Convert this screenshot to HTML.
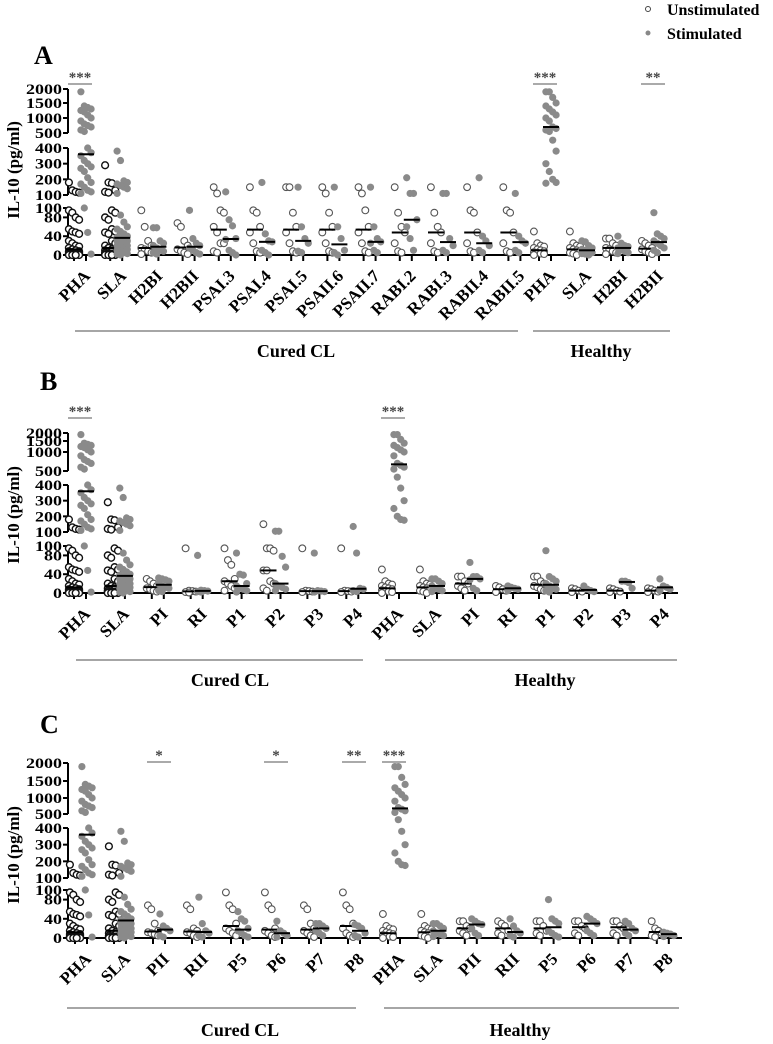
<!DOCTYPE html>
<html><head><meta charset="utf-8"><style>
html,body{margin:0;padding:0;background:#fff}
svg{display:block}
text{font-family:"Liberation Serif",serif;font-weight:bold}
</style></head><body>
<svg id="chart" width="773" height="1044" viewBox="0 0 773 1044" xmlns="http://www.w3.org/2000/svg">
<g>
<circle cx="648" cy="9" r="2.5" fill="#fff" stroke="#444" stroke-width="1"/>
<text x="667" y="15" font-size="16">Unstimulated</text>
<circle cx="648" cy="33" r="2.5" fill="#888"/>
<text x="667" y="39" font-size="16">Stimulated</text>
</g>
</svg>
<script>
// ---- Panel A data ----
const catsA = ["PHA","SLA","H2BI","H2BII","PSAI.3","PSAI.4","PSAI.5","PSAII.6","PSAII.7","RABI.2","RABI.3","RABII.4","RABII.5","PHA","SLA","H2BI","H2BII"];
const curedCountA = 13;
const unstimA = [
[180,130,120,115,95,90,80,75,55,50,48,45,30,25,20,18,15,12,10,8,8,6,5,5,4,3,3,2,2,1,1,0,0,0,0],
[290,180,175,130,120,115,95,90,80,75,55,50,48,45,30,25,20,15,12,10,10,8,8,5,5,4,3,3,2,2,1,0,0,0,0],
[95,60,30,20,15,12,8,5,2],
[60,68,30,20,12,8,5,2],
[150,110,95,90,60,48,25,25,8,5],
[150,90,95,60,48,25,8,5],
[150,150,90,60,48,25,8,5],
[150,110,90,60,48,25,8,5],
[150,110,95,60,48,25,8,5],
[150,90,60,48,25,8,5],
[150,90,60,48,25,8,5],
[150,95,90,48,25,8,5],
[150,95,90,48,25,8,5],
[50,25,20,18,15,12,10,8,6,5,3,2,0],
[50,25,20,18,15,12,10,8,5,3,0],
[35,35,25,20,15,12,8,5,2],
[30,25,20,15,12,8,5,2]];
const stimA = [
[1900,1400,1350,1300,1250,1200,1100,1000,900,800,750,700,600,550,400,370,350,320,300,280,270,250,210,180,170,150,130,120,110,100,48,2],
[380,320,190,180,170,160,150,140,110,85,70,60,55,50,45,40,38,35,30,30,30,28,25,20,20,18,15,12,10,8,5,3,2,0],
[58,58,30,25,20,15,10,8,5,2],
[95,35,25,20,15,10,5,2],
[120,75,62,35,33,10,5,0],
[180,45,30,28,10,5,0],
[150,60,35,25,8,5],
[150,60,35,10,5,0],
[150,60,35,28,25,10,5],
[210,110,110,75,60,35,10],
[110,110,35,20,10,5],
[210,40,30,20,10,5],
[110,40,30,25,10,5],
[1900,1900,1700,1500,1400,1300,1200,1100,1000,900,700,650,600,550,450,380,300,250,200,180,175],
[30,28,20,15,12,10,8,5,3,2,0],
[40,25,20,18,15,12,8,5,3],
[90,45,40,35,30,25,20,15,10,5]];
const starsA = [["***",0],["***",13],["**",16]];

// ---- Panel B data ----
const catsB = ["PHA","SLA","PI","RI","P1","P2","P3","P4","PHA","SLA","PI","RI","P1","P2","P3","P4"];
const curedCountB = 8;
const unstimB = [
unstimA[0], unstimA[1],
[30,25,20,15,10,8,5,3],
[95,5,4,3,2,1],
[95,70,60,30,25,20,15,10,5],
[150,95,95,90,48,48,25,20,10,5],
[95,5,4,3,2],
[95,5,4,3,2],
[50,25,20,18,15,12,10,8,6,5,3,2,0],
[50,25,20,18,15,12,10,8,5,3,0],
[35,35,25,20,15,10,5],
[15,12,8,5,2],
[35,35,25,20,15,12,8,5],
[10,8,5,3,2],
[10,8,5,3,2],
[10,8,5,3,2]];
const stimB = [
stimA[0], stimA[1],
[32,30,28,25,20,15,12,10,5,3],
[80,6,5,4,3,2],
[85,40,38,20,15,10,8,5,2],
[105,105,78,55,20,15,12,8,5],
[85,5,4,3,2],
[135,85,10,8,5,3],
[1900,1900,1600,1400,1300,1200,1100,1000,900,700,650,600,550,450,380,300,250,200,180,175],
[30,30,25,20,15,10,8,5,3],
[65,35,35,30,28,10,5],
[15,12,10,8,5],
[90,35,30,25,20,15,10,8,5,2],
[15,8,5,3],
[25,25,22,10],
[30,15,12,8,5]];
const starsB = [["***",0],["***",8]];

// ---- Panel C data ----
const catsC = ["PHA","SLA","PII","RII","P5","P6","P7","P8","PHA","SLA","PII","RII","P5","P6","P7","P8"];
const curedCountC = 8;
const unstimC = [
unstimA[0], unstimA[1],
[68,60,30,15,12,10,8,5],
[68,60,20,15,12,10,5,2],
[95,68,60,30,20,15,10,5],
[95,68,60,20,15,10,5,2],
[68,60,30,20,15,10,5,2],
[95,68,60,30,20,10,5,2],
[50,25,20,18,15,12,10,8,6,5,3,2,0],
[50,25,20,18,15,12,10,8,5,3,0],
[35,35,25,20,15,10,5],
[35,30,25,15,10,5],
[35,35,25,15,10,5],
[35,35,25,20,10,5],
[35,35,25,20,10,5],
[35,20,15,10,5,2]];
const stimC = [
stimA[0], stimA[1],
[50,25,20,15,5,2],
[85,30,15,10,5,2],
[55,40,35,20,15,10,5,2],
[35,15,10,5,2],
[30,30,25,20,15,10,5],
[28,25,20,10,5,2],
[1900,1900,1600,1400,1300,1200,1100,1000,900,700,650,600,550,450,380,300,250,200,180,175],
[30,30,25,20,15,10,8,5,3],
[40,35,30,28,20,10,5],
[40,25,15,10,5,2],
[80,40,35,30,15,10,5,2],
[45,40,35,30,15,10,5],
[35,30,20,15,10,5],
[12,10,8,5,3]];
const starsC = [["*",2],["*",5],["**",7],["***",8]];

const lowTicks = [0,40,80,100];
const midTicks = [100,200,300,400];
const topTicks = [500,1000,1500,2000];

const NS = "http://www.w3.org/2000/svg";
const svg = document.getElementById("chart");
function mk(tag, attrs, parent){const e=document.createElementNS(NS,tag);for(const k in attrs)e.setAttribute(k,attrs[k]);(parent||svg).appendChild(e);return e;}

const panels = [
 {letter:"A",lx:34,ly:64,cats:catsA,cc:curedCountA,u:unstimA,s:stimA,stars:starsA,
  y0:255,y100b:208,y100:195,y400:148,top:[133,118,103,89],
  cx0:80,cdx:36.2,hx0:545,hdx:36,xend:670,starY:84,
  gy:331,glY:357,cl:[75,518],hl:[533,670],clx:296,hlx:601,titleY:170},
 {letter:"B",lx:40,ly:390,cats:catsB,cc:curedCountB,u:unstimB,s:stimB,stars:starsB,
  y0:593,y100b:546,y100:532,y400:485,top:[471,452,441,433],
  cx0:80,cdx:38.9,hx0:393,hdx:38,xend:678,starY:418,
  gy:660,glY:686,cl:[76,363],hl:[385,677],clx:230,hlx:545,titleY:515},
 {letter:"C",lx:40,ly:733,cats:catsC,cc:curedCountC,u:unstimC,s:stimC,stars:starsC,
  y0:938,y100b:890,y100:878,y400:828,top:[814,798,781,763],
  cx0:81,cdx:39,hx0:394,hdx:38.4,xend:682,starY:762,
  gy:1008,glY:1036,cl:[67,356],hl:[384,679],clx:240,hlx:520,titleY:855}
];

function median(a){const b=[...a].sort((x,y)=>x-y);const n=b.length;return n%2?b[(n-1)/2]:(b[n/2-1]+b[n/2])/2;}

panels.forEach((P,pi)=>{
  const g = mk("g",{});
  
  
  function yScale(v){
    if(v<=100) return P.y0 + (P.y100b-P.y0)*v/100;
    if(v<=450) return P.y100 + (P.y400-P.y100)*(v-100)/300;
    const kv=topTicks, kp=P.top;
    if(v<=kv[0]) return kp[0];
    for(let i=1;i<kv.length;i++){ if(v<=kv[i]) return kp[i-1]+(kp[i]-kp[i-1])*(v-kv[i-1])/(kv[i]-kv[i-1]); }
    return kp[3]+(kp[3]-kp[2])*(v-2000)/500;
  }
  function xCenter(i){ return i<P.cc ? P.cx0+i*P.cdx : P.hx0+(i-P.cc)*P.hdx; }

  const letter = mk("text",{x:P.lx,y:P.ly,"font-size":26},g); letter.textContent=P.letter;
  
  
  const yt = mk("text",{x:0,y:0,"font-size":17,"text-anchor":"middle",transform:`translate(19,${P.titleY}) rotate(-90)`},g);
  yt.textContent="IL-10 (pg/ml)";
  
  

  const ax=68;
  const segs=[[P.y0,P.y100b],[P.y100,P.y400],[P.top[0],P.top[3]]];
  segs.forEach(sg=>{
    const l=mk("line",{x1:ax,x2:ax,y1:sg[0],y2:sg[1],stroke:"#000","stroke-width":2},g);
    
    
  });
  function tick(v,py){
    const t=mk("line",{x1:ax-5,x2:ax,y1:py,y2:py,stroke:"#000","stroke-width":2},g);
    
    
    const tx=mk("text",{x:0,y:0,"font-size":18,"text-anchor":"end",transform:`translate(${ax-6},${py+5}) scale(1,0.82)`},g);
    tx.textContent=v;
    
    
  }
  lowTicks.forEach(v=>tick(v, v===100?P.y100b:yScale(v)));
  midTicks.forEach(v=>tick(v, v===100?P.y100:yScale(v)));
  topTicks.forEach((v,i)=>tick(v, P.top[i]));

  const xa=mk("line",{x1:ax-1,x2:P.xend,y1:P.y0,y2:P.y0,stroke:"#000","stroke-width":2},g);
  
  

  P.cats.forEach((c,i)=>{
    const cx=xCenter(i);
    [-6,6].forEach(o=>{
      const t=mk("line",{x1:cx+o,x2:cx+o,y1:P.y0,y2:P.y0+6,stroke:"#000","stroke-width":2},g);
      
      
    });
    const lb=mk("text",{x:0,y:0,"font-size":17,"text-anchor":"end",transform:`translate(${cx+11},${P.y0+22}) rotate(-45)`},g);
    lb.textContent=c;
    
    

    [[P.u[i],-6,false],[P.s[i],6,true]].forEach(([vals,off,filled])=>{
      const sorted=[...vals].sort((a,b)=>b-a);
      sorted.forEach((v,k)=>{
        const jx=((k%4)-1.5)*3.4;
        const attrs = filled ? {cx:cx+off+jx,cy:yScale(v),r:3.6,fill:"#8a8a8a"} :
          {cx:cx+off+jx,cy:yScale(v),r:3.4,fill:"#fff",stroke:(i<2)?"#111":"#555","stroke-width":(i<2)?1.4:1.1};
        const p=mk("circle",attrs,g);
        
        
      });
      const m=median(vals);
      const ml=mk("line",{x1:cx+off-8,x2:cx+off+8,y1:yScale(m),y2:yScale(m),stroke:"#000","stroke-width":2},g);
      
      
    });
  });

  P.stars.forEach(([s,i])=>{
    const cx=xCenter(i);
    const l=mk("line",{x1:cx-12,x2:cx+12,y1:P.starY,y2:P.starY,stroke:"#777","stroke-width":1.3},g);
    
    
    const t=mk("text",{x:cx,y:P.starY-2,"font-size":15,"font-weight":"normal","text-anchor":"middle",fill:"#444"},g);
    t.textContent=s;
    
    
  });

  [[P.cl,P.clx,"Cured CL","cured-cl"],[P.hl,P.hlx,"Healthy","healthy"]].forEach(([r,lx,txt,nm])=>{
    const l=mk("line",{x1:r[0],x2:r[1],y1:P.gy,y2:P.gy,stroke:"#888","stroke-width":1.5},g);
    
    
    const t=mk("text",{x:lx,y:P.glY,"font-size":18,"text-anchor":"middle"},g);
    t.textContent=txt;
    
    
  });
});
</script>
</body></html>
